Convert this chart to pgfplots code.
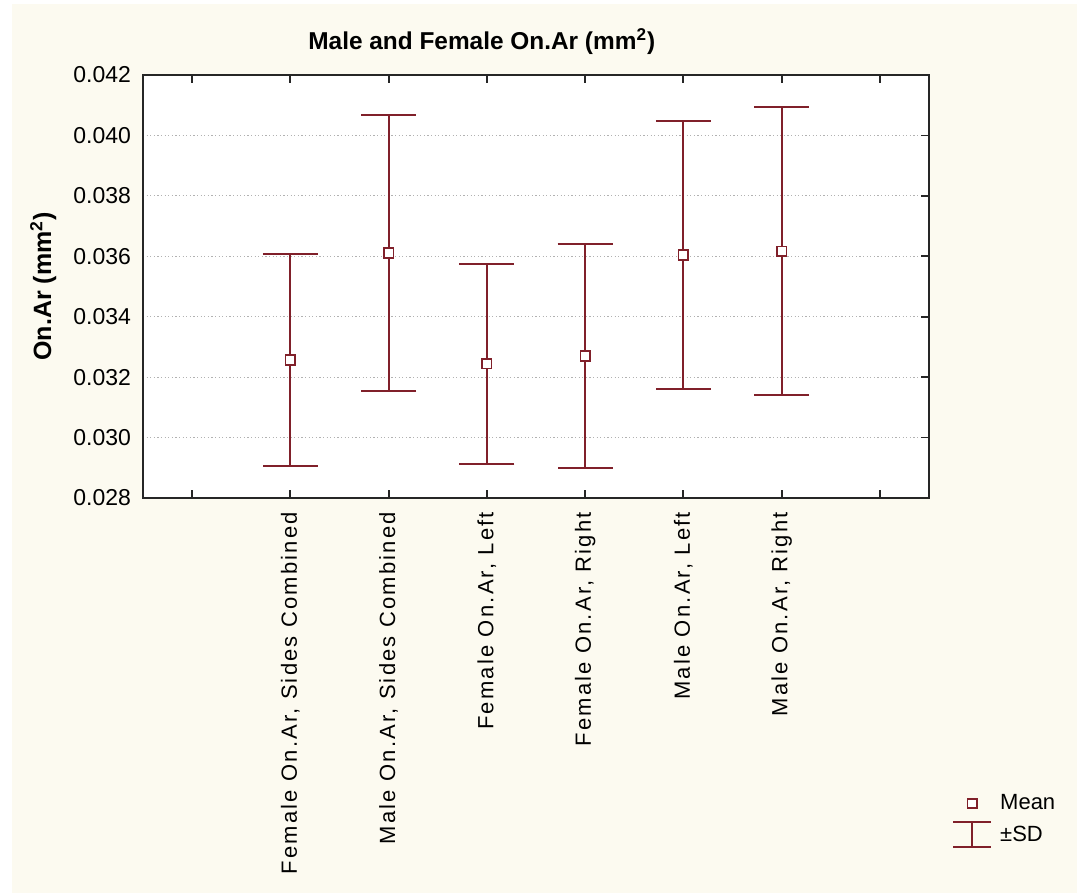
\documentclass[border=0pt]{standalone}
\usepackage{fontspec}
\setmainfont{Liberation Sans}
\newfontfamily\xlfont[LetterSpace=10]{Liberation Sans}
\usepackage{pgfplots}
\pgfplotsset{compat=1.18}
\definecolor{bgc}{RGB}{252,250,240}
\definecolor{maroon}{RGB}{128,32,42}
\begin{document}
\begin{tikzpicture}
\fill[white] (0,0) rectangle (538.5pt,446.5pt);
\fill[bgc] (6pt,0) rectangle (538.5pt,444.5pt);
\useasboundingbox (0,0) rectangle (538.5pt,446.5pt);
\begin{axis}[
  scale only axis, width=393pt, height=211.5pt,
  at={(71.5pt,197.5pt)}, anchor=south west,
  axis background/.style={fill=white},
  xmin=-0.5, xmax=7.5, ymin=0.028, ymax=0.042,
  xtick={0,1,2,3,4,5,6,7},
  xticklabels={{},{Female On.Ar, Sides Combined},{Male On.Ar, Sides Combined},{Female On.Ar, Left},{Female On.Ar, Right},{Male On.Ar, Left},{Male On.Ar, Right},{}},
  ytick={0.028,0.030,0.032,0.034,0.036,0.038,0.040,0.042},
  yticklabels={0.028,0.030,0.032,0.034,0.036,0.038,0.040,0.042},
  scaled y ticks=false,
  ytick pos=right, yticklabel pos=left,
  tick align=inside, major tick length=4pt,
  tick style={black!85, line width=0.9pt},
  axis line style={black!85, line width=1pt},
  ymajorgrids,
  grid style={gray!60, dash pattern=on 0.6pt off 1.2pt, line width=0.5pt},
  yticklabel style={font=\fontsize{11.5}{12}\selectfont, xshift=-2.5pt},
  xticklabel style={rotate=90, anchor=east, font=\xlfont\fontsize{11}{12}\selectfont},
  xticklabel shift=3.5pt,
  title={Male and Female On.Ar (mm\textsuperscript{2})},
  title style={at={(0.431,1.050)}, anchor=center, font=\bfseries\fontsize{12.2}{14}\selectfont},
  ylabel={On.Ar (mm\textsuperscript{2})},
  ylabel style={at={(axis description cs:-0.127,0.5)}, anchor=center, font=\bfseries\fontsize{12.5}{14}\selectfont},
  legend style={at={(1.029,-0.69)}, anchor=north west, draw=none, fill=none,
    font=\fontsize{11}{12}\selectfont, row sep=2.5pt, inner sep=0pt, cells={anchor=west}},
]
\addplot[maroon, only marks, forget plot, mark=square*, mark options={fill=white, line width=0.8pt, mark size=2.4pt},
  error bars/.cd, y dir=both, y explicit,
  error bar style={line width=1pt, maroon},
  error mark options={rotate=90, mark size=13.75pt, line width=1pt, maroon}]
coordinates {
  (1,0.03257) +- (0,0.00350)
  (2,0.03611) +- (0,0.00456)
  (3,0.03244) +- (0,0.00330)
  (4,0.03270) +- (0,0.00371)
  (5,0.03604) +- (0,0.00443)
  (6,0.03617) +- (0,0.00477)
};
\addlegendimage{legend image code/.code={\path[draw=none, fill=none] (-1pt,-6.25pt) rectangle (20.5pt,6.25pt);
  \draw[maroon, line width=0.8pt, fill=white] (6.1pt,-2.3pt) rectangle (10.9pt,2.3pt);}}
\addlegendentry{Mean}
\addlegendimage{legend image code/.code={\path[draw=none, fill=none] (-1pt,-6.25pt) rectangle (20.5pt,6.25pt);
  \draw[maroon, line width=1pt] (-1pt,6.25pt) -- (18pt,6.25pt) (8.5pt,6.25pt) -- (8.5pt,-6.25pt) (-1pt,-6.25pt) -- (18pt,-6.25pt);}}
\addlegendentry{±SD}
\end{axis}
\end{tikzpicture}
\end{document}
